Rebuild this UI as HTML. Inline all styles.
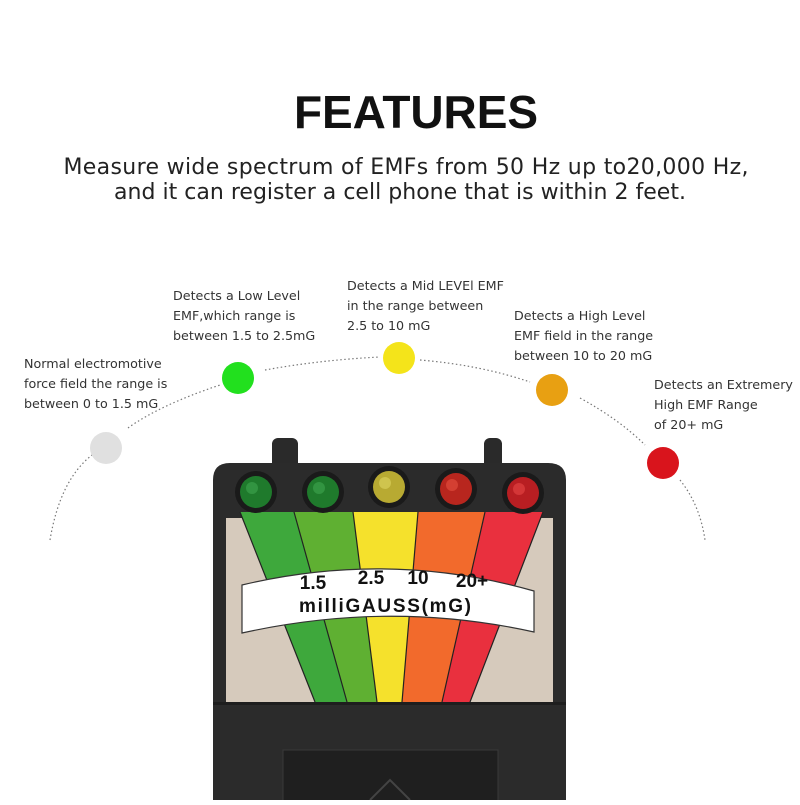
<!DOCTYPE html>
<html><head><meta charset="utf-8"><style>
body{margin:0;background:#fff;width:800px;height:800px;overflow:hidden;font-family:"Liberation Sans","DejaVu Sans",sans-serif}
</style></head><body>
<svg width="800" height="800" viewBox="0 0 800 800" xmlns="http://www.w3.org/2000/svg" font-family="Liberation Sans, DejaVu Sans, sans-serif">
<rect width="800" height="800" fill="#fff"/>
<text x="416" y="128" text-anchor="middle" font-size="46" font-weight="bold" fill="#111" textLength="244">FEATURES</text>
<text x="406" y="174" text-anchor="middle" font-size="22" fill="#222" font-family="DejaVu Sans, sans-serif" textLength="685">Measure wide spectrum of EMFs from 50 Hz up to20,000 Hz,</text>
<text x="400" y="199" text-anchor="middle" font-size="22" fill="#222" font-family="DejaVu Sans, sans-serif" textLength="572">and it can register a cell phone that is within 2 feet.</text>

<g fill="none" stroke="#777" stroke-width="1.2" stroke-dasharray="1.5 2.5">
<path d="M50 540 Q60 480 92 455"/>
<path d="M128 428 Q160 405 220 385"/>
<path d="M265 370 Q320 360 380 357"/>
<path d="M420 360 Q480 365 530 382"/>
<path d="M580 398 Q620 420 645 445"/>
<path d="M680 480 Q700 505 705 540"/>
</g>
<circle cx="106" cy="448" r="16" fill="#e0e0e0"/>
<circle cx="238" cy="378" r="16" fill="#22e01e"/>
<circle cx="399" cy="358" r="16" fill="#f4e41a"/>
<circle cx="552" cy="390" r="16" fill="#e8a012"/>
<circle cx="663" cy="463" r="16" fill="#d9141c"/>

<g font-size="12.7" fill="#333" font-family="DejaVu Sans, sans-serif">
<text x="24" y="368">Normal electromotive</text>
<text x="24" y="388">force field the range is</text>
<text x="24" y="408">between 0 to 1.5 mG</text>
<text x="173" y="300">Detects a Low Level</text>
<text x="173" y="320">EMF,which range is</text>
<text x="173" y="340">between 1.5 to 2.5mG</text>
<text x="347" y="290">Detects a Mid LEVEl EMF</text>
<text x="347" y="310">in the range between</text>
<text x="347" y="330">2.5 to 10 mG</text>
<text x="514" y="320">Detects a High Level</text>
<text x="514" y="340">EMF field in the range</text>
<text x="514" y="360">between 10 to 20 mG</text>
<text x="654" y="389">Detects an Extremery</text>
<text x="654" y="409">High EMF Range</text>
<text x="654" y="429">of 20+ mG</text>
</g>

<!-- device -->
<rect x="272" y="438" width="26" height="50" rx="6" fill="#2a2a2a"/>
<rect x="484" y="438" width="18" height="50" rx="6" fill="#2a2a2a"/>
<path d="M213 800 L213 480 Q213 463 230 463 L548 463 Q566 463 566 480 L566 800 Z" fill="#2b2b2b"/>
<rect x="226" y="518" width="327" height="184" fill="#d6cabc"/>
<polygon points="240,512 294,512 347,702 315,702" fill="#3ea83c"/>
<polygon points="294,512 353,512 377,702 347,702" fill="#5fb032"/>
<polygon points="353,512 418,512 402,702 377,702" fill="#f5e12c"/>
<polygon points="418,512 485,512 442,702 402,702" fill="#f26a2c"/>
<polygon points="485,512 543,512 470,702 442,702" fill="#e9303e"/>
<g stroke="#222" stroke-width="1.2">
<line x1="240" y1="512" x2="315" y2="702"/><line x1="294" y1="512" x2="347" y2="702"/>
<line x1="353" y1="512" x2="377" y2="702"/><line x1="418" y1="512" x2="402" y2="702"/>
<line x1="485" y1="512" x2="442" y2="702"/><line x1="543" y1="512" x2="470" y2="702"/>
</g>
<path d="M242 585 Q390 550 534 591 L534 632 Q390 600 242 633 Z" fill="#fff" stroke="#333" stroke-width="1.2"/>
<g font-size="19" fill="#111" font-weight="bold" text-anchor="middle">
<text x="313" y="589">1.5</text>
<text x="371" y="584">2.5</text>
<text x="418" y="584">10</text>
<text x="472" y="587">20+</text>
<text x="385" y="612" textLength="172">milliGAUSS(mG)</text>
</g>
<rect x="213" y="702" width="353" height="3" fill="#1e1e1e"/>
<rect x="283" y="750" width="215" height="60" fill="#1f1f1f" stroke="#3a3a3a"/>
<path d="M370 800 L390 780 L410 800" fill="none" stroke="#444" stroke-width="2"/>
<g>
<circle cx="256" cy="492" r="21" fill="#1a1a1a"/><circle cx="256" cy="492" r="16" fill="#1f7a2c"/><circle cx="252" cy="488" r="6" fill="#3aa04a" opacity=".7"/>
<circle cx="323" cy="492" r="21" fill="#1a1a1a"/><circle cx="323" cy="492" r="16" fill="#1f7a2c"/><circle cx="319" cy="488" r="6" fill="#3aa04a" opacity=".7"/>
<circle cx="389" cy="487" r="21" fill="#1a1a1a"/><circle cx="389" cy="487" r="16" fill="#b8aa32"/><circle cx="385" cy="483" r="6" fill="#d8ce5a" opacity=".7"/>
<circle cx="456" cy="489" r="21" fill="#1a1a1a"/><circle cx="456" cy="489" r="16" fill="#b8261e"/><circle cx="452" cy="485" r="6" fill="#e04a3a" opacity=".7"/>
<circle cx="523" cy="493" r="21" fill="#1a1a1a"/><circle cx="523" cy="493" r="16" fill="#b81e22"/><circle cx="519" cy="489" r="6" fill="#e04040" opacity=".7"/>
</g>
</svg>
</body></html>
